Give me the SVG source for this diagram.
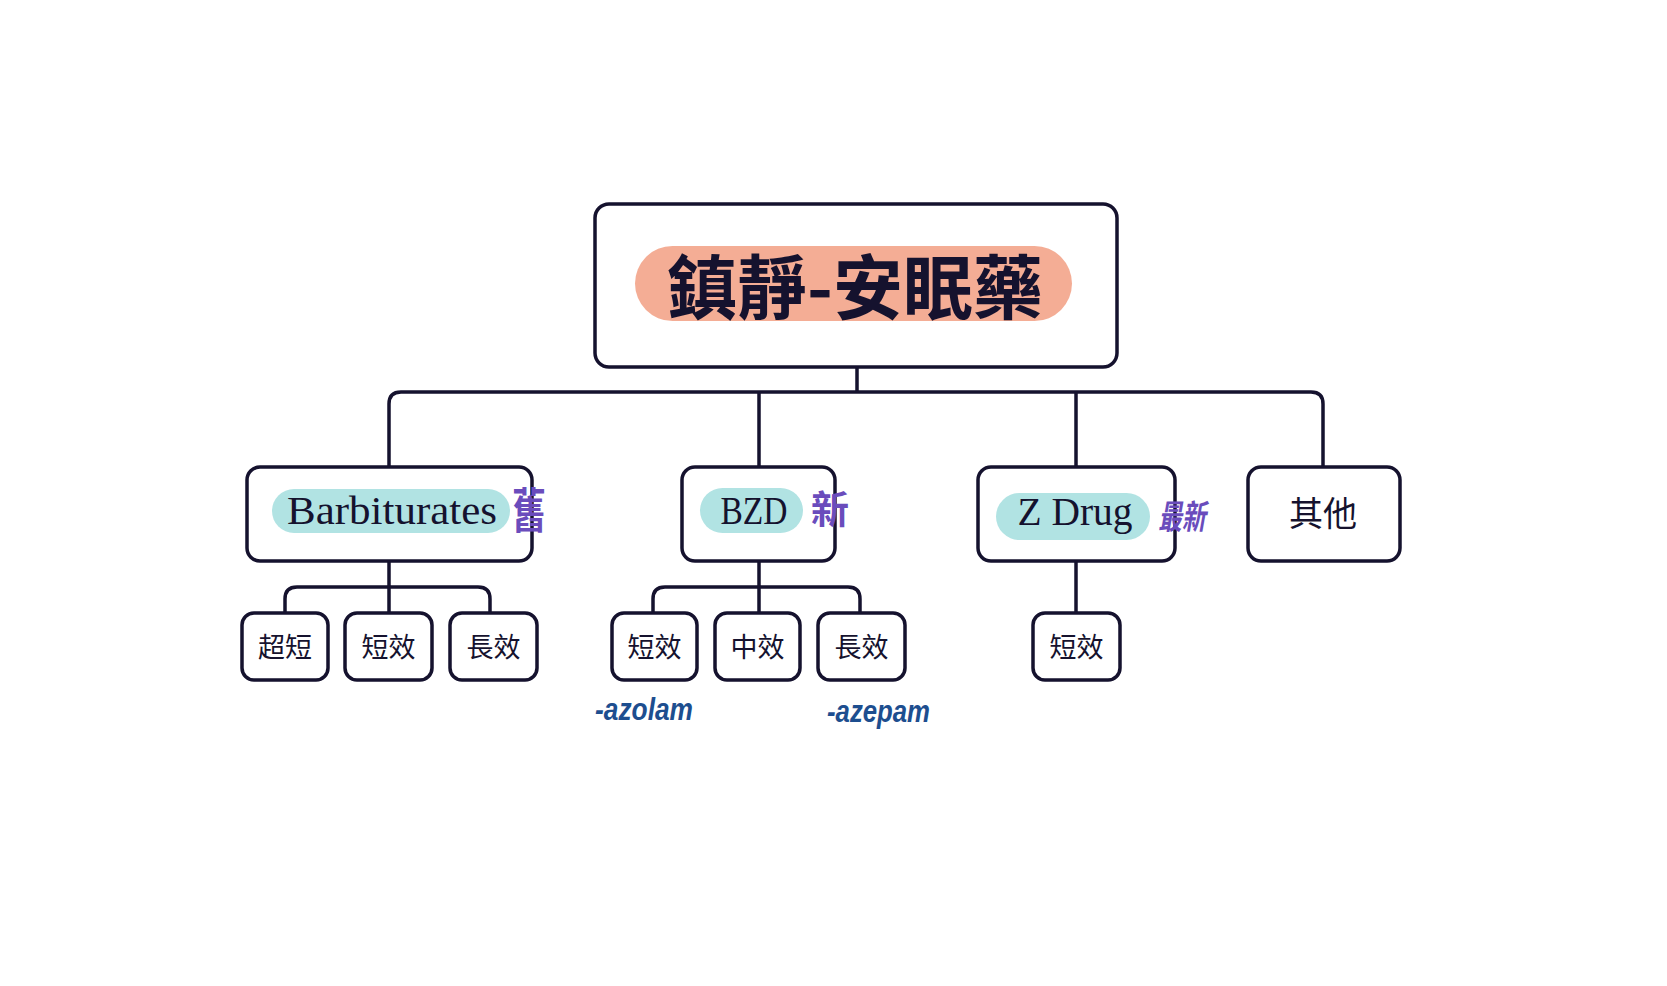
<svg xmlns="http://www.w3.org/2000/svg" width="1667" height="986" viewBox="0 0 1667 986">
<style>
.box{fill:#fff;stroke:#15122e;stroke-width:3.5}
.ln{fill:none;stroke:#15122e;stroke-width:3.5;stroke-linecap:round}
.cjk{font-family:"Noto Sans CJK TC","Noto Sans CJK SC",sans-serif;fill:#15122e;text-anchor:middle;dominant-baseline:central}
.ser{font-family:"Liberation Serif","DejaVu Serif",serif;fill:#15122e;text-anchor:middle;font-size:40px}
.pill{fill:#b1e3e3}
.hand{font-family:"Noto Sans CJK TC",sans-serif;fill:#6a4cbc;font-weight:700}
.blue{font-family:"Liberation Sans",sans-serif;fill:#1d4e8f;font-weight:700;font-style:italic}
</style>
<rect width="1667" height="986" fill="#fff"/>
<g id="connectors">
<path class="ln" d="M857,368 V392 M389,467 V404 Q389,392 401,392 H1311 Q1323,392 1323,404 V467 M759,392 V467 M1076,392 V467"/>
<path class="ln" d="M389,562 V613 M285,613 V599 Q285,587 297,587 H478 Q490,587 490,599 V613"/>
<path class="ln" d="M759,562 V613 M653,613 V599 Q653,587 665,587 H848 Q860,587 860,599 V613"/>
<path class="ln" d="M1076,562 V613"/>
</g>
<g id="root">
<rect class="box" x="595" y="204" width="522" height="163" rx="14"/>
<rect x="635" y="246" width="437" height="75" rx="37.5" fill="#f4ad95"/>
<text class="cjk" x="855" y="283" font-size="70" font-weight="700">鎮靜-安眠藥</text>
</g>
<g id="barbiturates">
<rect class="box" x="247" y="467" width="285" height="94" rx="13"/>
<rect class="pill" x="272" y="489" width="238" height="44" rx="22"/>
<text class="ser" x="392" y="524" textLength="210" lengthAdjust="spacingAndGlyphs">Barbiturates</text>
<text class="hand" x="529" y="525" font-size="42" text-anchor="middle" transform="translate(529,507) scale(0.8,1.15) translate(-529,-507)">舊</text>
</g>
<g id="bzd">
<rect class="box" x="682" y="467" width="153" height="94" rx="13"/>
<rect class="pill" x="700" y="488" width="103" height="45" rx="22.5"/>
<text class="ser" x="754" y="524" textLength="67" lengthAdjust="spacingAndGlyphs">BZD</text>
<text class="hand" x="830" y="523" font-size="38" text-anchor="middle">新</text>
</g>
<g id="zdrug">
<rect class="box" x="978" y="467" width="197" height="94" rx="13"/>
<rect class="pill" x="996" y="493" width="154" height="47" rx="23.5"/>
<text class="ser" x="1075" y="525" textLength="115" lengthAdjust="spacingAndGlyphs">Z Drug</text>
<text class="hand" x="1182" y="527" font-size="28" text-anchor="middle" font-style="italic" transform="translate(1182,515) scale(0.85,1.2) translate(-1182,-515)">最新</text>
</g>
<g id="others">
<rect class="box" x="1248" y="467" width="152" height="94" rx="13"/>
<text class="cjk" x="1323" y="511" font-size="34">其他</text>
</g>
<g id="b-ultrashort">
<rect class="box" x="242" y="613" width="86" height="67" rx="12"/>
<text class="cjk" x="285" y="645" font-size="27">超短</text>
</g>
<g id="b-short">
<rect class="box" x="345" y="613" width="87" height="67" rx="12"/>
<text class="cjk" x="388.5" y="645" font-size="27">短效</text>
</g>
<g id="b-long">
<rect class="box" x="450" y="613" width="87" height="67" rx="12"/>
<text class="cjk" x="493.5" y="645" font-size="27">長效</text>
</g>
<g id="bzd-short">
<rect class="box" x="612" y="613" width="85" height="67" rx="12"/>
<text class="cjk" x="654.5" y="645" font-size="27">短效</text>
</g>
<g id="bzd-mid">
<rect class="box" x="715" y="613" width="85" height="67" rx="12"/>
<text class="cjk" x="757.5" y="645" font-size="27">中效</text>
</g>
<g id="bzd-long">
<rect class="box" x="818" y="613" width="87" height="67" rx="12"/>
<text class="cjk" x="861.5" y="645" font-size="27">長效</text>
</g>
<g id="zd-short">
<rect class="box" x="1033" y="613" width="87" height="67" rx="12"/>
<text class="cjk" x="1076.5" y="645" font-size="27">短效</text>
</g>
<g id="suffixes">
<text class="blue" x="595" y="720" font-size="32" textLength="98" lengthAdjust="spacingAndGlyphs">-azolam</text>
<text class="blue" x="827" y="722" font-size="32" textLength="103" lengthAdjust="spacingAndGlyphs">-azepam</text>
</g>
</svg>
